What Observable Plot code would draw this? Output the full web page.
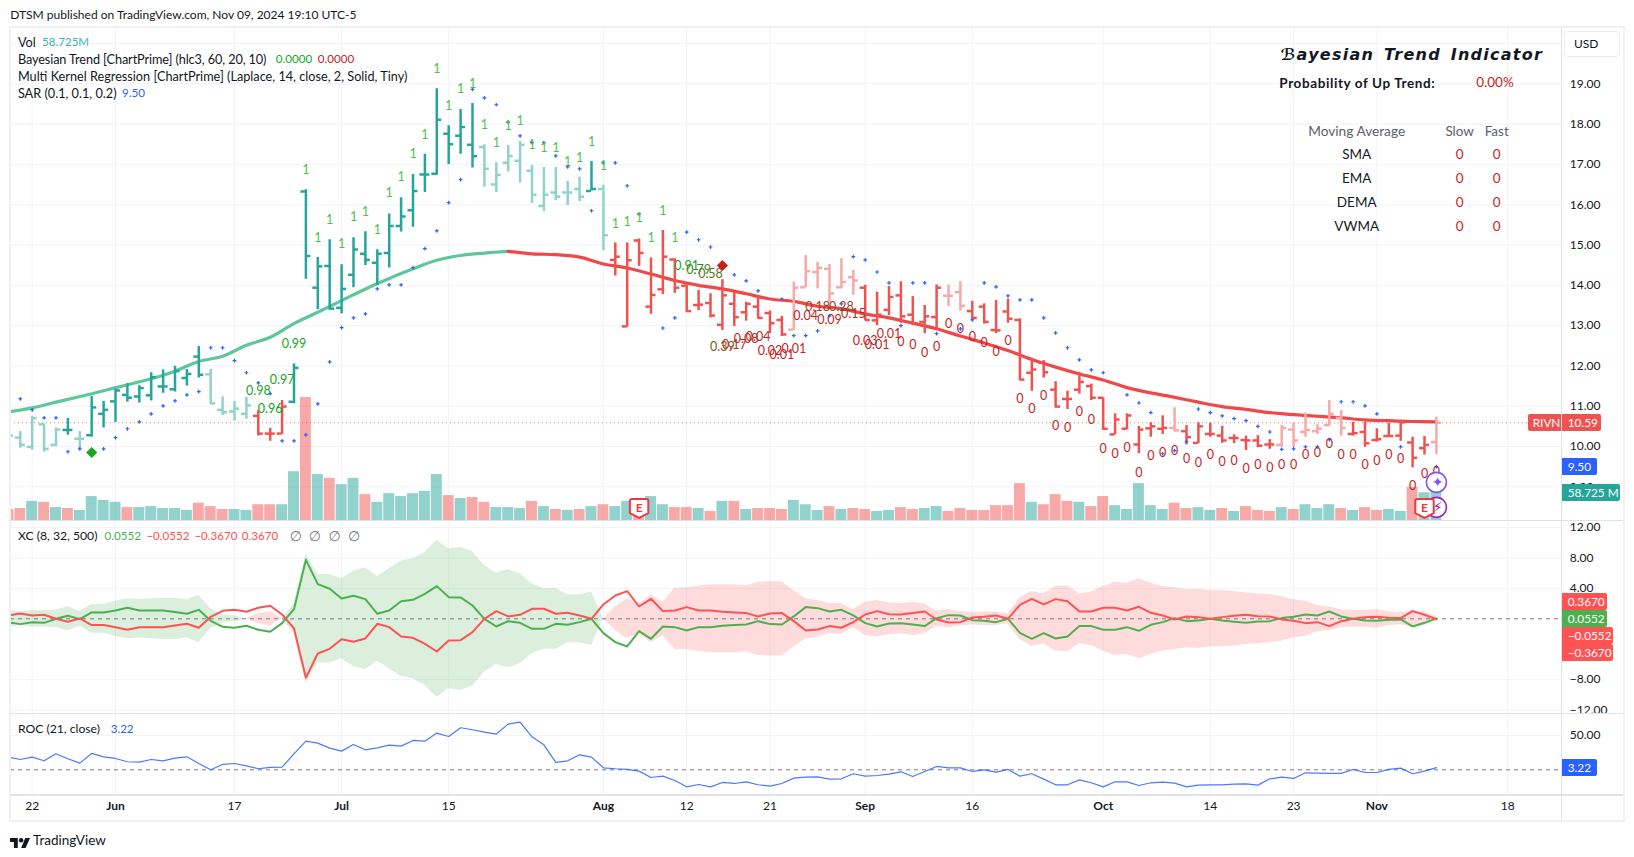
<!DOCTYPE html>
<html><head><meta charset="utf-8">
<script src="https://cdn.jsdelivr.net/npm/d3@7"></script>
<script src="https://cdn.jsdelivr.net/npm/@observablehq/plot@0.6"></script>
<style>
html,body{margin:0;padding:0;background:#fff;}
#root{position:relative;width:1634px;height:857px;overflow:hidden;font-family:Lato,"Noto Sans",sans-serif;color:#131722;font-size:12.7px;}
#root svg{position:absolute;left:0;}
.t{position:absolute;white-space:pre;line-height:16px;}
.c{transform:translateX(-50%);}
.badge{position:absolute;color:#fff;font-size:11.8px;display:flex;align-items:center;white-space:nowrap;padding-left:6px;box-sizing:border-box;border-radius:0 2px 2px 0;}
.line{position:absolute;background:#e0e3eb;}
.frame{position:absolute;background:#f0f1f6;}
</style></head><body><div id="root"></div>
<script>
const firstBar = -2;
const barOpen = [10.30,10.22,9.99,10.55,10.04,10.41,10.19,10.28,10.81,11.12,11.28,11.24,11.27,11.49,11.42,11.70,12.23,11.79,10.91,10.87,10.81,10.76,10.32,10.32,11.11,16.33,13.94,14.48,13.44,14.26,14.78,14.56,14.80,15.47,15.86,16.75,16.77,17.76,17.71,17.49,17.43,16.50,17.04,17.09,16.84,15.97,16.30,16.30,16.39,16.34,16.39,14.63,12.98,15.11,13.47,13.90,14.64,13.99,13.51,13.56,13.02,13.54,13.33,13.47,13.31,13.14,12.90,13.95,14.33,14.41,13.95,14.20,13.94,13.13,13.39,13.75,13.27,13.09,13.21,13.74,13.83,13.36,13.47,12.89,13.35,13.14,11.83,12.08,11.41,11.18,11.41,11.50,11.21,10.30,10.44,10.05,10.45,10.44,10.46,10.38,10.09,10.31,10.27,10.21,10.16,10.15,10.05,10.04,10.42,10.36,10.38,10.53,10.71,10.31,10.36,10.16,10.26,10.27,10.10,9.96,10.11];
const barHigh = [10.40,10.37,10.75,10.56,10.46,10.70,10.37,11.24,11.12,11.43,11.56,11.51,11.83,11.90,11.99,11.91,12.48,11.91,11.23,11.12,11.22,10.89,10.45,11.14,12.05,16.37,14.69,15.13,14.51,15.18,15.33,14.88,15.77,16.17,16.75,17.25,18.88,17.96,18.36,18.51,17.49,17.04,17.47,17.57,16.97,16.92,16.92,16.58,16.68,17.07,16.48,15.05,15.05,15.15,14.68,15.36,14.66,14.01,13.87,13.79,14.14,13.83,13.58,13.75,13.36,13.23,14.08,14.74,14.57,14.52,14.66,14.37,14.00,13.83,13.97,14.09,13.72,13.50,14.01,14.00,14.09,13.60,13.54,13.62,13.66,13.17,12.19,12.13,11.61,11.37,11.84,11.55,11.21,10.81,10.81,10.50,10.59,10.76,10.96,10.52,10.59,10.58,10.50,10.29,10.26,10.27,10.17,10.52,10.58,10.83,10.54,11.14,10.89,10.60,10.60,10.44,10.58,10.65,10.23,10.25,10.73];
const barLow = [10.20,9.96,9.91,9.86,10.00,10.28,9.94,10.23,10.46,10.60,11.10,11.08,11.13,11.32,11.35,11.50,11.70,11.05,10.77,10.63,10.68,10.26,10.13,10.30,11.06,14.15,13.40,13.38,13.29,13.94,14.49,14.00,14.43,15.32,15.44,16.30,16.73,17.00,17.25,16.91,16.43,16.30,16.81,16.54,16.03,15.83,16.10,15.98,16.08,16.34,14.86,14.23,12.96,14.47,13.28,13.77,13.80,13.33,13.37,13.19,12.88,12.98,13.11,13.17,12.80,12.73,12.88,13.94,13.91,13.56,13.91,13.75,13.13,13.00,13.25,13.06,13.00,12.80,12.92,13.47,13.36,13.13,13.04,12.80,13.06,11.64,11.37,11.70,10.96,10.92,11.30,11.14,10.41,10.29,10.41,9.82,10.23,10.30,10.36,10.04,10.07,10.23,10.08,10.07,9.90,9.97,9.93,9.98,9.97,10.23,10.30,10.50,10.26,10.26,9.98,10.11,10.23,10.13,9.47,9.79,9.80];
const barClose = [10.27,10.04,10.70,9.94,10.42,10.41,10.19,10.97,10.91,11.39,11.21,11.45,11.72,11.49,11.87,11.80,11.78,11.07,10.85,10.94,11.02,10.32,10.32,10.99,11.95,14.73,14.47,13.42,13.91,14.89,14.63,14.78,15.47,15.71,16.34,16.75,18.11,17.50,17.93,17.20,16.89,16.74,17.21,17.49,16.25,16.25,16.20,16.30,16.20,16.39,15.24,14.71,14.62,14.80,13.76,14.71,13.94,13.36,13.52,13.25,13.75,13.21,13.54,13.19,13.06,12.78,13.94,14.35,14.43,13.80,14.08,14.12,13.14,13.27,13.71,13.23,13.06,13.23,13.94,13.74,13.49,13.19,13.09,12.88,13.17,11.66,11.91,11.84,10.99,11.18,11.60,11.21,10.44,10.67,10.77,10.42,10.50,10.46,10.40,10.23,10.50,10.31,10.15,10.21,10.15,10.02,10.05,10.46,10.15,10.41,10.44,10.81,10.46,10.33,10.08,10.18,10.26,10.60,9.72,10.04,10.59];
const barShade = "LLLLLTLTTTTTTTTTTLLLLRRRTTTTTTTTTTTTTTTTLLLLLLLLLTLRRRRRRRRRRRRRRRPPPPPPRRRRRRRPPRRRRRRRRRRRRRRRRRPRRRRRRRRPPPPPPRRRRRRRP".split("");
const volume = [23,25,40,38,27,25,21,50,42,38,27,27,29,25,25,21,36,29,23,23,21,33,33,33,102,257,96,88,75,88,54,38,56,50,56,61,96,52,46,48,38,27,27,25,40,29,23,21,23,29,33,29,40,29,50,33,27,27,25,19,40,40,23,25,25,23,42,33,21,29,23,25,23,19,21,27,23,25,29,19,25,21,21,31,31,77,38,33,54,40,38,29,50,31,23,77,31,23,36,25,27,21,25,19,29,21,19,27,23,33,25,33,25,21,27,21,23,19,69,58,58.725];
const volumeSide = ("ddududuuuu"+"duuuuudddu"+"udduududuu"+"duuuuuudud"+"duuudududu"+"duuduuddud"+"ududdduuud"+"udduudduud"+"dddddduddd"+"udduuuuudd"+"uududddudu"+"uududduuduu").split("");
const kernelIndex = [-2,0,2,5,7,10,12,14,16,18,20,22,24,26,28,30,32,34,36,38,40,42,44,46,48,50,52,54,56,58,60,62,64,66,68,70,72,74,76,78,80,82,84,86,88,90,92,94,96,98,100,102,104,106,108,110,112,114,116,118];
const kernelValue = [10.86,10.96,11.10,11.31,11.46,11.68,11.87,12.11,12.24,12.51,12.71,13.05,13.33,13.62,13.91,14.17,14.41,14.62,14.74,14.80,14.84,14.78,14.76,14.70,14.53,14.43,14.28,14.12,14.00,13.91,13.79,13.66,13.60,13.48,13.42,13.29,13.19,13.06,12.92,12.74,12.57,12.38,12.16,11.97,11.80,11.65,11.46,11.33,11.22,11.10,10.99,10.92,10.84,10.79,10.75,10.71,10.66,10.64,10.62,10.61];
const sarIndex = [-1,0,1,2,3,4,6,7,8,9,10,11,12,13,14,15,16,17,18,19,20,21,22,23,24,25,26,27,28,29,30,31,32,33,34,35,36,37,38,39,40,41,42,43,44,45,46,47,48,49,50,51,53,54,55,56,57,59,60,61,63,64,65,66,67,68,69,70,71,72,73,74,75,76,78,79,80,81,82,83,84,85,86,87,88,89,90,92,93,94,95,96,97,98,99,100,101,102,103,104,105,106,107,108,109,110,111,112,113,115,118];
const sarValue = [11.18,10.91,10.71,10.71,9.87,9.94,9.94,10.22,10.44,10.61,10.81,11.01,11.13,11.28,11.36,12.45,12.45,12.13,11.83,11.58,11.31,10.14,10.14,10.29,11.06,12.10,12.95,13.19,13.29,13.91,14.01,14.01,14.44,14.91,15.35,16.05,16.62,18.86,18.65,18.48,18.05,17.71,17.54,17.54,17.21,16.94,16.89,15.85,17.04,17.04,16.47,15.77,12.94,13.19,15.32,15.13,14.95,14.26,14.11,13.86,13.66,12.75,12.75,12.87,13.24,13.54,14.71,14.63,14.33,14.06,13.00,14.06,14.06,12.80,12.92,13.14,14.06,13.96,13.74,13.64,13.64,13.19,12.82,12.45,12.15,11.90,11.83,11.28,11.08,10.84,9.82,9.90,10.12,10.93,10.84,10.76,10.69,10.64,10.50,10.36,9.93,9.94,9.99,9.99,10.17,11.11,11.11,11.01,10.81,9.99,9.50];
const bayesFirst = 19;
const bayesText = ["0.98","0.96","0.97","0.99","1","1","1","1","1","1","1","1","1","1","1","1","1","1","1","1","1","1","1","1","1","1","1","1","1","1","1","1","1","1","1","1","0.91","0.79","0.58","0.39","0.17","0.08","0.04","0.02","0.01","0.01","0.04","0.18","0.09","0.28","0.15","0.03","0.01","0.01","0","0","0","0","0","0","0","0","0","0","0","0","0","0","0","0","0","0","0","0","0","0","0","0","0","0","0","0","0","0","0","0","0","0","0","0","0","0","0","0","0","0","0","0","0","0"];
const bayesPrice = [11.37,10.94,11.66,12.55,16.85,15.17,15.63,15.03,15.69,15.82,15.38,16.29,16.68,17.26,17.74,19.37,18.45,18.87,19.00,17.99,17.53,17.96,18.07,17.49,17.41,17.41,17.06,17.16,17.56,16.96,15.53,15.57,15.67,15.18,15.84,15.18,14.49,14.38,14.27,12.46,12.52,12.67,12.71,12.37,12.28,12.42,13.23,13.46,13.13,13.46,13.29,12.63,12.52,12.80,12.59,12.52,12.32,12.48,13.04,12.92,12.71,12.57,12.34,12.61,11.18,10.94,11.25,10.50,10.46,10.85,10.66,9.94,9.82,9.97,9.34,9.76,9.83,9.88,9.70,9.59,9.79,9.61,9.65,9.45,9.55,9.47,9.53,9.55,9.79,9.84,10.07,9.79,9.79,9.55,9.64,9.78,9.70,9.02,9.32,9.36];
const xcGreen = [-0.44,-0.70,-0.44,-0.53,0,0.39,-0.04,0.83,0.83,1.10,1.45,1.10,1.10,1.10,0.88,0.66,1.18,-0.26,-1.05,-1.18,-0.92,-1.45,-1.71,-0.57,1.27,7.76,4.56,3.95,2.68,3.03,2.59,0.66,1.10,2.32,2.50,3.29,4.30,2.85,2.81,1.75,0,-1.01,-0.31,-0.53,-1.32,-1.32,-0.66,-0.79,-0.44,0,-1.89,-3.07,-3.64,-1.62,-2.63,-1.01,-1.10,-1.54,-1.10,-1.10,-0.92,-0.83,-0.75,-0.31,-0.70,-0.75,0.31,1.54,1.40,0.96,1.18,0.44,-0.57,-1.01,-0.61,-0.57,-0.75,-0.96,0.09,0.48,0.44,-0.18,-0.26,-0.44,0,-1.84,-2.63,-1.89,-2.59,-2.32,-0.96,-0.96,-1.45,-1.45,-1.10,-1.58,-0.79,-0.44,0.09,-0.31,-0.22,0,-0.22,-0.39,-0.53,-0.35,-0.31,0.09,0.26,0.57,0.44,0.96,0.31,0,-0.22,-0.26,-0.13,-0.09,-1.01,-0.53,0.0552];
const xcBand = [1.18,0.88,1.10,1.10,1.14,1.62,0.96,1.89,1.89,2.32,2.63,2.54,2.63,2.72,2.72,2.50,3.11,1.32,0.53,0.39,0,0.66,0.96,0,1.97,8.50,5.83,5.83,5.26,6.27,6.71,5.57,6.58,7.59,7.89,8.77,10.31,9.21,9.43,8.86,7.02,6.01,6.45,5.92,4.61,4.00,4.00,3.16,3.16,3.51,0,1.54,2.63,1.97,3.16,2.19,4.04,4.04,4.30,4.47,4.47,4.47,4.34,4.82,4.91,4.87,3.73,2.63,2.41,1.97,2.06,1.18,2.19,2.41,2.11,1.97,2.19,1.97,1.01,1.18,0.96,0.83,0.88,0.88,0.66,2.76,3.60,3.29,4.25,4.34,3.29,3.51,4.25,4.82,4.69,5.26,4.69,4.25,4.08,3.82,3.90,3.72,3.68,3.60,3.42,3.29,3.16,2.94,2.50,2.32,1.75,1.54,1.18,1.10,1.10,1.23,0.88,0.79,1.10,0.88,0.31];
const xcZones = [["#4caf50",-2,18],["#ff5252",18,21],["#4caf50",21,48],["#ff5252",48,118]];
const rocValue = [18.4,15.0,18.4,13.1,23.3,16.0,9.7,23.8,18.9,16.5,11.7,11.2,15.0,13.1,17.0,18.9,9.2,0,7.8,9.2,5.8,1.5,3.4,3.9,23.3,41.7,38.8,31.6,27.2,36.9,29.1,32.0,35.9,34.5,42.7,41.7,53.4,48.5,61.2,58.3,54.9,52.0,66.5,69.4,48.1,36.4,10.7,13.1,21.8,18.4,2.9,1.5,0.5,-1.9,-11.2,-9.2,-15.5,-24.8,-21.4,-24.8,-18.4,-19.9,-17.5,-21.8,-23.8,-19.9,-12.1,-10.7,-10.2,-13.6,-13.1,-5.8,-9.2,-8.3,-6.3,-2.9,-9.7,-2.4,4.9,2.9,2.9,-2.4,0,-3.4,0.5,-9.2,-5.8,-13.6,-21.8,-21.8,-14.6,-18.9,-24.8,-17.5,-17.5,-22.8,-18.9,-18.0,-19.4,-24.8,-22.3,-21.8,-21.8,-20.9,-20.4,-22.3,-13.1,-10.7,-12.6,-4.4,-4.9,-5.3,-5.3,0.5,-3.9,-3.9,0.5,2.4,-5.8,-1.9,3.22];
const timeTicks = [0,7,17,26,35,48,55,62,70,79,90,99,106,113,124];
const timeLabels = ["22","Jun","17","Jul","15","Aug","12","21","Sep","16","Oct","14","23","Nov","18"];
const priceTicks = [9,10,11,12,13,14,15,16,17,18,19];
const xcTicks = [12,8,4,-8,-12];
const rocTicks = [50];
const lastPrice = 10.59, lastSar = 9.50;
const signals = [{i:5,p:9.85,c:"#16a81e"},{i:58,p:14.49,c:"#c81e1e"}];
const earnings = [{i:51,p:8.47},{i:117,p:8.47}];
const events = [{i:118,p:9.11,g:"\u2726",c:"#7e57f2"},{i:118,p:8.49,g:"\u26A1",c:"#9c27b0"}];

const F = 'Lato,"Noto Sans",sans-serif';
const root = document.getElementById("root");
const xDomain = [(10-31.7)/11.9,(1560.7-31.7)/11.9];
const xOpt = {type:"linear",domain:xDomain,axis:null};
const gridCol = "#f0f3fa";
const GRID = {stroke:gridCol,strokeOpacity:1,strokeWidth:1};

const bars = barOpen.map((o,k)=>({i:firstBar+k,o,h:barHigh[k],l:barLow[k],c:barClose[k],s:barShade[k]}));
const vols = volume.map((v,k)=>({i:firstBar+k,v,side:volumeSide[k]}));
const shadeCol = {T:"#26a69a",L:"#8fd3cb",R:"#ef5350",P:"#f7a9a7"};

function mount(p,top){p.style.top=top+"px";p.style.background="transparent";p.style.overflow="hidden";p.style.maxWidth="none";root.appendChild(p);return p;}
function base(h,yDom,extra){return Object.assign({width:1634,height:h,marginLeft:10,marginRight:73.3,marginTop:0,marginBottom:0,x:xOpt,y:{type:"linear",domain:yDom,axis:null},style:{background:"transparent",fontFamily:F,fontSize:"12px",color:"#131722"}},extra||{});}
function axisRight(t){return Plot.axisY(t,{anchor:"right",tickSize:0,tickPadding:8.6,textAnchor:"start",tickFormat:d=>d3.format(".2f")(d).replace("-","\u2212"),fill:"#131722",fontSize:12,label:null});}
const priceDom = [19-(520-83.3)/40.3,19+(83.3-27)/40.3];

// grid layer behind volume
mount(Plot.plot(base(493,priceDom,{marks:[
  Plot.ruleX(timeTicks,{x:d=>d,...GRID}),
  Plot.ruleY(priceTicks.concat([20]),{y:d=>d,...GRID})
]})),27);
// volume layer
mount(Plot.plot(base(493,[0,1030],{marks:[
  Plot.rectY(vols,{x1:d=>d.i-0.46,x2:d=>d.i+0.46,y1:0,y2:"v",fill:d=>d.side==="u"?"#26a69a":"#ef5350",fillOpacity:.5,clip:true})
]})),27);

// price layer
const kernel = kernelIndex.map((i,k)=>({i,p:kernelValue[k]}));
const sar = sarIndex.map((i,k)=>({i,p:sarValue[k]}));
const bayes = bayesText.map((t,k)=>({i:bayesFirst+k,t,p:bayesPrice[k]}));
const bayesMix = d3.interpolateRgb("#c81e1e","#12a81c");
const shield = {draw(ctx,size){const r=Math.sqrt(size/Math.PI);const w=r,h=r;ctx.moveTo(-w+2,-h);ctx.lineTo(w-2,-h);ctx.quadraticCurveTo(w,-h,w,-h+2);ctx.lineTo(w,h*0.55);ctx.lineTo(0,h*1.05);ctx.lineTo(-w,h*0.55);ctx.lineTo(-w,-h+2);ctx.quadraticCurveTo(-w,-h,-w+2,-h);ctx.closePath();}};
const mainPlot = mount(Plot.plot(base(493,priceDom,{marks:[
  Plot.ruleY([lastPrice],{stroke:"#ef5350",strokeOpacity:.75,strokeDasharray:"1 3",strokeWidth:1}),
  Plot.line(kernel.filter(d=>d.i<=40),{x:"i",y:"p",stroke:"#5ec69c",strokeWidth:3.2,curve:"catmull-rom",clip:true}),
  Plot.line(kernel.filter(d=>d.i>=40),{x:"i",y:"p",stroke:"#f04848",strokeWidth:3.2,curve:"catmull-rom",clip:true}),
  Plot.ruleX(bars,{x:"i",y1:"l",y2:"h",stroke:d=>shadeCol[d.s],strokeWidth:2.5,clip:true}),
  Plot.ruleY(bars,{y:"o",x1:d=>d.i-0.42,x2:"i",stroke:d=>shadeCol[d.s],strokeWidth:2.5,clip:true}),
  Plot.ruleY(bars,{y:"c",x1:"i",x2:d=>d.i+0.42,stroke:d=>shadeCol[d.s],strokeWidth:2.5,clip:true}),
  Plot.dot(sar,{x:"i",y:"p",symbol:"plus",r:1.3,stroke:"#2962ff",strokeWidth:1.2}),
  Plot.dot(signals,{x:"i",y:"p",symbol:"diamond2",r:5,fill:"c",stroke:"none"}),
  Plot.text(bayes,{x:"i",y:"p",text:"t",fontSize:12.5,fill:d=>d.t==="1"?"#4cc24c":bayesMix(+d.t)}),
  Plot.dot(events,{x:"i",y:"p",r:10,fill:"#fff",fillOpacity:.9,stroke:"c",strokeWidth:1.6}),
  Plot.dot(earnings,{x:"i",y:"p",symbol:shield,r:9.2,fill:"#fff",stroke:"#f23645",strokeWidth:2}),
  Plot.text(earnings,{x:"i",y:"p",text:()=>"E",fill:"#f23645",fontWeight:700,fontSize:12}),
  Plot.text(events,{x:d=>d.i+0.1,y:"p",text:"g",fill:"c",fontSize:14,fontWeight:700,fontFamily:"DejaVu Sans"}),
  axisRight(priceTicks)
]})),27);

// XC pane
const xc = xcGreen.map((g,k)=>({i:firstBar+k,g,r:-g,b:xcBand[k]}));
const xcMarks = [
  Plot.ruleX(timeTicks,{x:d=>d,...GRID}),
  Plot.ruleY(xcTicks,{y:d=>d,...GRID})
];
for(const [col,a,b] of xcZones){
  xcMarks.push(Plot.areaY(xc.filter(d=>d.i>=a&&d.i<=b),{x:"i",y1:d=>-d.b,y2:"b",fill:col,fillOpacity:.2,clip:true}));
}
xcMarks.push(
  Plot.ruleY([0],{stroke:"#787b86",strokeDasharray:"4 4",strokeWidth:1}),
  Plot.line(xc,{x:"i",y:"g",stroke:"#4caf50",strokeWidth:2,clip:true}),
  Plot.line(xc,{x:"i",y:"r",stroke:"#ff5252",strokeWidth:2,clip:true}),
  axisRight(xcTicks)
);
mount(Plot.plot(base(192,[(618.3-713)/7.6,(618.3-521)/7.6],{marks:xcMarks})),521);

// ROC pane + time axis
const roc = rocValue.map((v,k)=>({i:firstBar+k,v}));
const isMonth = s=>/[A-Za-z]/.test(s);
const labelOf = d=>timeLabels[timeTicks.indexOf(d)];
mount(Plot.plot(base(108,[(769.3-794)/.687,(769.3-713)/.687],{marginBottom:27,marks:[
  Plot.ruleX(timeTicks,{x:d=>d,...GRID}),
  Plot.ruleY(rocTicks,{y:d=>d,...GRID}),
  Plot.ruleY([0],{stroke:"#787b86",strokeDasharray:"4 4",strokeWidth:1}),
  Plot.line(roc,{x:"i",y:"v",stroke:"#2962ff",strokeOpacity:.85,strokeWidth:1.2,clip:true}),
  axisRight(rocTicks),
  Plot.axisX(timeTicks.filter(d=>!isMonth(labelOf(d))),{anchor:"bottom",tickSize:0,tickPadding:7,tickFormat:labelOf,fill:"#131722",fontSize:12,label:null}),
  Plot.axisX(timeTicks.filter(d=>isMonth(labelOf(d))),{anchor:"bottom",tickSize:0,tickPadding:7,tickFormat:labelOf,fill:"#131722",fontSize:12,fontWeight:700,label:null})
]})),713);

// frame
function box(cls,l,t,w,h){const d=document.createElement("div");d.className=cls;d.style.cssText=`left:${l}px;top:${t}px;width:${w}px;height:${h}px`;root.appendChild(d);return d;}
box("frame",9,26,1615,2);box("frame",9,820,1615,2);box("frame",9,26,2,796);box("frame",1623,26,2,796);
box("line",10,519.5,1613,1.5);box("line",10,712.5,1613,1.5);box("line",10,794,1613,1.5);box("line",1560.5,27,1.2,793);

function txt(x,yc,html,opt){opt=opt||{};const d=document.createElement("div");d.className="t"+(opt.center?" c":"");d.style.left=x+"px";d.style.top=(yc-8)+"px";if(opt.style)d.style.cssText+=";"+opt.style;d.innerHTML=html;root.appendChild(d);return d;}
const val = (x,y,c,t)=>txt(x,y,t,{style:`color:${c};font-size:11.6px`});
txt(10.3,15,"DTSM published on TradingView.com, Nov 09, 2024 19:10 UTC-5",{style:"font-size:12px"});
txt(17.9,42,"Vol");val(42,42,"#3fb6a8","58.725M");
txt(17.9,59,"Bayesian Trend [ChartPrime] (hlc3, 60, 20, 10)",{style:"letter-spacing:-.1px"});val(275.8,59,"#12a81c","0.0000");val(317.8,59,"#c81e1e","0.0000");
txt(17.9,76,"Multi Kernel Regression [ChartPrime] (Laplace, 14, close, 2, Solid, Tiny)");
txt(17.9,93,"SAR (0.1, 0.1, 0.2)");val(122,93,"#2962ff","9.50");
txt(17.9,536,"XC (8, 32, 500)",{style:"font-size:12.2px"});
val(104.6,536,"#4caf50","0.0552");val(146.4,536,"#ff5252","\u22120.0552");val(194.4,536,"#ff5252","\u22120.3670");val(241.8,536,"#ff5252","0.3670");
[289.8,308.7,328.6,348].forEach(x=>txt(x,536,"\u2205",{style:"color:#787b86;font:14px 'Liberation Sans','DejaVu Sans';line-height:16px"}));
txt(17.9,729,"ROC (21, close)",{style:"font-size:12.2px"});val(110.7,729,"#2962ff","3.22");

// table
txt(1280.5,55,"\u212Cayesian Trend Indicator",{style:"font:italic 700 16px 'DejaVu Sans',sans-serif;letter-spacing:1.25px;word-spacing:3px;line-height:16px;color:#131722"});
txt(1279.3,82.5,"Probability of Up Trend:",{style:"font-weight:700;font-size:13.5px;letter-spacing:.6px"});
txt(1495,82,"0.00%",{center:1,style:"color:#cc1c1c;font-size:13.5px"});
txt(1356.7,130.5,"Moving Average",{center:1,style:"color:#5d606b;font-size:13.7px"});
txt(1459.7,130.5,"Slow",{center:1,style:"color:#5d606b;font-size:13.5px"});
txt(1496.7,130.5,"Fast",{center:1,style:"color:#5d606b;font-size:13.5px"});
const tableNames=["SMA","EMA","DEMA","VWMA"],tableSlow=[0,0,0,0],tableFast=[0,0,0,0];
tableNames.forEach((n,k)=>{const y=154.3+k*24;
  txt(1356.7,y,n,{center:1,style:"font-size:13.5px"});
  txt(1459.7,y,String(tableSlow[k]),{center:1,style:"color:#cc1c1c;font-size:13.5px"});
  txt(1496.7,y,String(tableFast[k]),{center:1,style:"color:#cc1c1c;font-size:13.5px"});
});

// USD button
const usd=box("",1564,31,56,26);usd.style.cssText+=";position:absolute;border:1px solid #e9ebf2;border-radius:4px;box-sizing:border-box;background:#fff";
txt(1574,44,"USD",{style:"font-size:12px"});

// badges
function badge(l,t,w,h,bg,text){const d=box("badge",l,t,w,h);d.style.background=bg;d.textContent=text;return d;}
const yMain = v=>mainPlot.scale("y").apply(v)+27;
const rv=badge(1527.7,yMain(lastPrice)-8.3,33,17,"#ef5350","RIVN");rv.style.borderRadius="2px 0 0 2px";rv.style.paddingLeft="5px";
badge(1561.7,yMain(lastPrice)-8.3,39.5,17,"#ef5350",d3.format(".2f")(lastPrice));
badge(1561.7,yMain(lastSar)-8.3,35,17,"#2962ff",d3.format(".2f")(lastSar));
badge(1561.7,484,58.5,17,"#26a69a","58.725 M");
badge(1561.7,593.3,45.5,17,"#ff5252","0.3670");
badge(1561.7,610.3,45.5,17,"#4caf50","0.0552");
badge(1561.7,627.3,51,17,"#ff5252","\u22120.0552");
badge(1561.7,644.3,51,17,"#ff5252","\u22120.3670");
badge(1561.7,759.3,35,17,"#2962ff","3.22");

// footer
const logo=document.createElement("div");logo.style.cssText="position:absolute;left:10px;top:835px;width:20px;height:10px";
logo.innerHTML='<svg style="position:static" width="20" height="10" viewBox="0 0 36 18"><path fill="#131722" d="M14 18H7V7H0V0h14v18z"/><circle fill="#131722" cx="20" cy="4" r="4"/><path fill="#131722" d="M28 18h-8l7.5-18H36z"/></svg>';
root.appendChild(logo);
txt(33,839.5,"TradingView",{style:"font-size:13.5px"});
</script></body></html>
